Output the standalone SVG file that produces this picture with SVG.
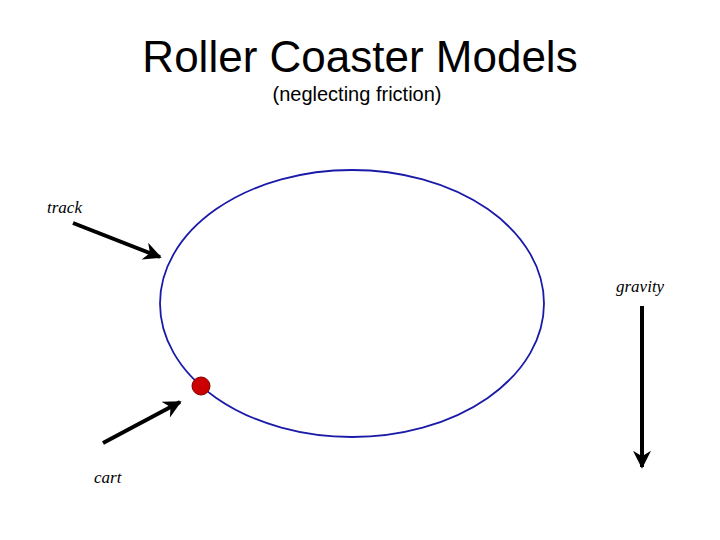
<svg xmlns="http://www.w3.org/2000/svg" width="720" height="540" viewBox="0 0 720 540">
<style>
.t{font-family:"Liberation Sans",Arial,sans-serif;fill:#000}
.l{font-family:"Liberation Serif","Times New Roman",serif;font-style:italic;font-size:17px;fill:#000}
.a{stroke:#000;stroke-width:4;fill:none;marker-end:url(#ah)}
</style>
<defs>
<marker id="ah" viewBox="0 0 10 10" refX="9" refY="5" markerWidth="5" markerHeight="4.5" orient="auto" markerUnits="strokeWidth">
<path d="M0,0 L10,5 L0,10 L3,5 z" fill="#000"/>
</marker>
</defs>
<rect width="720" height="540" fill="#fff"/>
<text class="t" x="360" y="72" font-size="44" text-anchor="middle">Roller Coaster Models</text>
<text class="t" x="357" y="101" font-size="20" text-anchor="middle">(neglecting friction)</text>
<g id="track">
<ellipse cx="352" cy="303.5" rx="192" ry="133.5" fill="none" stroke="#1a1aa8" stroke-width="1.8"/>
</g>
<g id="cart">
<circle cx="201" cy="386" r="9" fill="#cc0000" stroke="#800000" stroke-width="1"/>
</g>
<g id="labels">
<text class="l" x="47" y="213">track</text>
<text class="l" x="616" y="292">gravity</text>
<text class="l" x="94" y="483">cart</text>
</g>
<g id="connectors">
<line class="a" x1="73" y1="223" x2="160" y2="257"/>
<line class="a" x1="103" y1="443" x2="180" y2="402"/>
<line class="a" x1="642" y1="306" x2="642" y2="467"/>
</g>
</svg>
